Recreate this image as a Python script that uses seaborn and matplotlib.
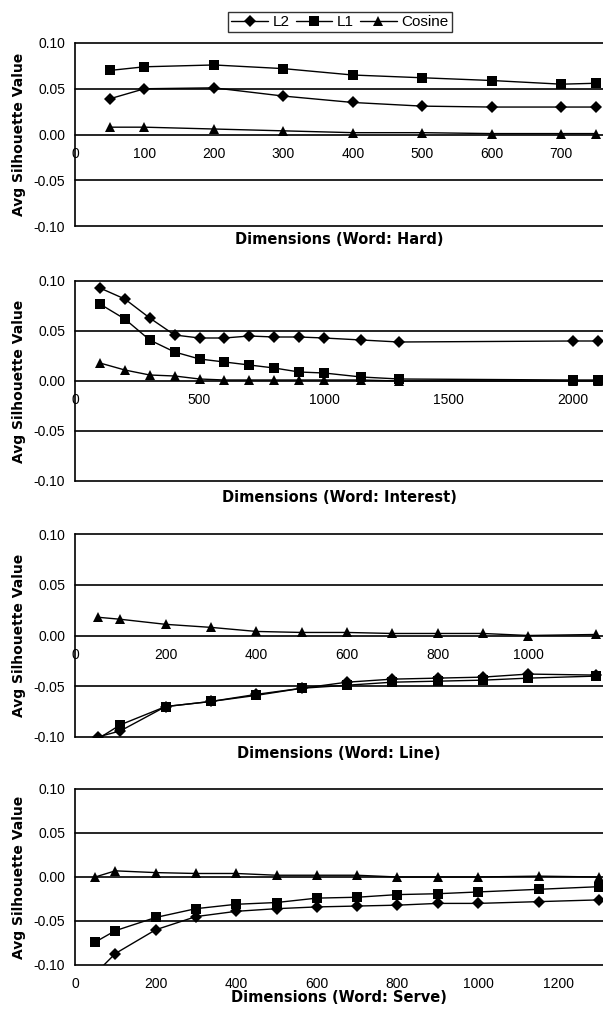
import matplotlib
matplotlib.use('Agg')
import matplotlib.pyplot as plt
import seaborn as sns
import pandas as pd

# ---- data ----
hard_x = [50, 100, 200, 300, 400, 500, 600, 700, 750]
hard_l2 = [0.039, 0.050, 0.051, 0.042, 0.035, 0.031, 0.030, 0.030, 0.030]
hard_l1 = [0.070, 0.074, 0.076, 0.072, 0.065, 0.062, 0.059, 0.055, 0.056]
hard_cos = [0.008, 0.008, 0.006, 0.004, 0.002, 0.002, 0.001, 0.001, 0.001]

interest_x = [100, 200, 300, 400, 500, 600, 700, 800, 900, 1000, 1150, 1300, 2000, 2100]
interest_l2 = [0.093, 0.082, 0.063, 0.046, 0.043, 0.043, 0.045, 0.044, 0.044, 0.043, 0.041, 0.039, 0.040, 0.040]
interest_l1 = [0.077, 0.062, 0.041, 0.029, 0.022, 0.019, 0.016, 0.013, 0.009, 0.008, 0.004, 0.002, 0.001, 0.001]
interest_cos = [0.018, 0.011, 0.006, 0.005, 0.002, 0.001, 0.001, 0.001, 0.001, 0.001, 0.001, 0.000, 0.000, 0.000]

line_x = [50, 100, 200, 300, 400, 500, 600, 700, 800, 900, 1000, 1150]
line_l2 = [-0.100, -0.094, -0.070, -0.065, -0.058, -0.052, -0.046, -0.043, -0.042, -0.041, -0.038, -0.039]
line_l1 = [-0.102, -0.088, -0.070, -0.065, -0.059, -0.052, -0.049, -0.046, -0.045, -0.044, -0.042, -0.040]
line_cos = [0.018, 0.016, 0.011, 0.008, 0.004, 0.003, 0.003, 0.002, 0.002, 0.002, 0.000, 0.001]

serve_x = [50, 100, 200, 300, 400, 500, 600, 700, 800, 900, 1000, 1150, 1300]
serve_l2 = [-0.110, -0.087, -0.060, -0.045, -0.039, -0.036, -0.034, -0.033, -0.032, -0.030, -0.030, -0.028, -0.026]
serve_l1 = [-0.074, -0.061, -0.046, -0.036, -0.031, -0.029, -0.024, -0.023, -0.020, -0.019, -0.017, -0.014, -0.011]
serve_cos = [0.000, 0.007, 0.005, 0.004, 0.004, 0.002, 0.002, 0.002, 0.000, 0.000, 0.000, 0.001, 0.000]

series_names = ['L2', 'L1', 'Cosine']
y_ticks = [-0.10, -0.05, 0.00, 0.05, 0.10]

panels = [
    ('Hard', hard_x, [hard_l2, hard_l1, hard_cos], [0, 100, 200, 300, 400, 500, 600, 700], 760),
    ('Interest', interest_x, [interest_l2, interest_l1, interest_cos], [0, 500, 1000, 1500, 2000], 2120),
    ('Line', line_x, [line_l2, line_l1, line_cos], [0, 200, 400, 600, 800, 1000], 1165),
    ('Serve', serve_x, [serve_l2, serve_l1, serve_cos], [0, 200, 400, 600, 800, 1000, 1200], 1310),
]

sns.set_style('white')
plt.rcParams['font.family'] = ['Liberation Sans', 'DejaVu Sans']
for key in ['text.color', 'axes.labelcolor', 'xtick.color', 'ytick.color']:
    plt.rcParams[key] = 'black'

fig = plt.figure(figsize=(6.03, 10.11), dpi=100)
H = 1011.0
W = 603.0
# (top px, bottom px) of each plot area, and gap from bottom to the x title centre
boxes = [(43, 226), (281, 481), (534, 737), (789, 965)]
title_gap = [14, 16, 16, 33]
x0 = 75
left = x0 / W
width = 1 - left

markers = {'L2': 'D', 'L1': 's', 'Cosine': '^'}
msizes = {'L2': 6.5, 'L1': 7, 'Cosine': 7.5}
label_font = ['DejaVu Sans']

axes = []
for i, (word, xs, ys, xticks, xmax) in enumerate(panels):
    top, bot = boxes[i]
    hpx = bot - top
    ax = fig.add_axes([left, 1 - bot / H, width, hpx / H])
    axes.append(ax)
    for name, vals in zip(series_names, ys):
        df = pd.DataFrame({'dim': xs, 'val': vals})
        # excel hides markers that fall outside the axis range
        show = [v >= -0.1001 for v in vals]
        sns.lineplot(data=df, x='dim', y='val', ax=ax, color='black', lw=1,
                     marker=markers[name], markersize=msizes[name], markeredgewidth=0,
                     markevery=show, label=name, legend=False, zorder=3)
    ax.set_ylim(-0.10, 0.10)
    ax.set_xlim(0, xmax)
    ax.set_yticks(y_ticks)
    ax.set_yticklabels(['%.2f' % t for t in y_ticks], fontsize=10)
    ax.set_xticks(xticks)
    ax.set_xticklabels([str(t) for t in xticks], fontsize=10)
    for t in y_ticks:
        ax.axhline(t, color='black', lw=1.2, zorder=1, clip_on=False)
    for s in ['top', 'right', 'bottom']:
        ax.spines[s].set_visible(False)
    ax.spines['left'].set_color('black')
    ax.spines['left'].set_linewidth(1.2)
    if word != 'Serve':
        # x axis crosses at zero
        ax.spines['bottom'].set_position(('data', 0))
    ax.tick_params(axis='x', length=0, pad=9)
    ax.tick_params(axis='y', length=0, pad=7)
    ax.set_ylabel('Avg Silhouette Value', fontsize=10, fontweight='bold', family=label_font)
    ax.yaxis.set_label_coords((26 - x0) / (W - x0), 0.5)
    ax.set_xlabel('Dimensions (Word: %s)' % word, fontsize=10.5, fontweight='bold',
                  family=label_font, va='center')
    ax.xaxis.set_label_coords(0.5, -title_gap[i] / hpx)

handles = axes[0].get_lines()[:3]
leg = fig.legend(handles, series_names, loc='upper center', bbox_to_anchor=(340 / W, 1 - 12 / H),
                 ncol=3, fontsize=11, frameon=True, fancybox=False, edgecolor='black',
                 handlelength=2.4, handletextpad=0.3, columnspacing=0.4, borderpad=0.2,
                 borderaxespad=0)
leg.get_frame().set_linewidth(1)

fig.savefig('out.png', dpi=100)
